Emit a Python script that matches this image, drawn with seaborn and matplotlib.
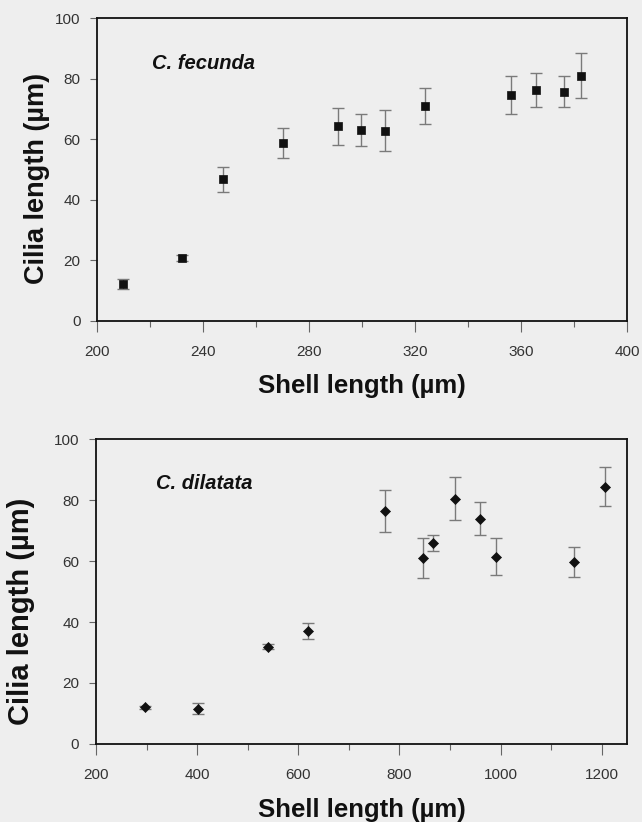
import numpy as np
import pandas as pd
import seaborn as sns
from matplotlib import pyplot as plt
from matplotlib.ticker import MultipleLocator


# C. fecunda (top panel)
fec_shell = [209.8, 232.1, 247.5, 270.1, 290.7, 299.5, 308.7, 323.7, 356.1, 365.5, 376.0, 382.6]
fec_cilia = [12.3, 20.8, 46.7, 58.7, 64.2, 63.1, 62.8, 71.0, 74.6, 76.3, 75.7, 81.0]
fec_err = [1.6, 1.0, 4.1, 5.0, 6.1, 5.2, 6.7, 6.0, 6.3, 5.6, 5.2, 7.3]

# C. dilatata (bottom panel)
dil_shell = [297, 402, 540, 619, 772, 846, 867, 911, 960, 992, 1146, 1206]
dil_cilia = [12.0, 11.5, 31.9, 37.0, 76.4, 61.0, 65.9, 80.4, 73.8, 61.4, 59.8, 84.4]
dil_err = [0.6, 1.8, 0.8, 2.6, 7.0, 6.7, 2.5, 7.1, 5.4, 6.0, 4.9, 6.4]

BG = "#eeeeee"
INK = "#111111"
ERR = "#7a7a7a"
TICK = "#333333"


def draw_panel(ax, shell, cilia, err, marker, size, xlim, major, minor, name, name_pos,
               ylab_size, ylab_pos):
    df = pd.DataFrame({"shell": shell, "cilia": cilia, "err": err})
    ax.errorbar(df["shell"], df["cilia"], yerr=df["err"], fmt="none",
                ecolor=ERR, elinewidth=1.0, capsize=4.3, capthick=1.0, zorder=2)
    sns.scatterplot(df, x="shell", y="cilia", marker=marker, s=size, color=INK,
                    edgecolor=INK, linewidth=0.5, ax=ax, zorder=3, legend=False)
    ax.set_xlim(*xlim)
    ax.set_ylim(0, 100)
    ax.xaxis.set_major_locator(MultipleLocator(major))
    ax.xaxis.set_minor_locator(MultipleLocator(minor))
    ax.yaxis.set_major_locator(MultipleLocator(20))
    ax.set_facecolor(BG)
    for side in ["left", "bottom", "top", "right"]:
        ax.spines[side].set_color(INK)
        ax.spines[side].set_linewidth(1.3)
    ax.tick_params(axis="x", which="major", length=8, width=0.8, color="#666666",
                   labelsize=11, labelcolor=TICK, pad=9)
    ax.tick_params(axis="x", which="minor", length=4, width=0.8, color="#666666")
    ax.tick_params(axis="y", which="major", length=5, width=0.8, color="#666666",
                   labelsize=11, labelcolor=TICK, pad=7)
    ax.set_xlabel("Shell length (µm)", fontsize=18.5, fontweight="bold", color=INK)
    ax.set_ylabel("Cilia length (µm)", fontsize=ylab_size, fontweight="bold", color=INK)
    ax.xaxis.set_label_coords(0.5, -0.176)
    ax.yaxis.set_label_coords(*ylab_pos)
    ax.text(name_pos[0], name_pos[1], name, fontsize=14.5, fontweight="bold",
            fontstyle="italic", color=INK, ha="left", va="center")


sns.set_theme(style="ticks")
plt.rcParams["font.family"] = ["Liberation Sans", "DejaVu Sans"]

fig = plt.figure(figsize=(6.42, 8.22), dpi=100, facecolor=BG)
ax_top = fig.add_axes([0.1516, 0.6095, 0.8255, 0.3686])
ax_bot = fig.add_axes([0.1495, 0.0949, 0.8270, 0.3710])

draw_panel(ax_top, fec_shell, fec_cilia, fec_err, "s", 28, (200, 400), 40, 20,
           "C. fecunda", (220.6, 85), 19.5, (-0.089, 0.470))
draw_panel(ax_bot, dil_shell, dil_cilia, dil_err, "D", 26, (200, 1250), 200, 100,
           "C. dilatata", (318, 85.5), 21, (-0.115, 0.434))

fig.savefig("out.png", dpi=100, facecolor=BG)
